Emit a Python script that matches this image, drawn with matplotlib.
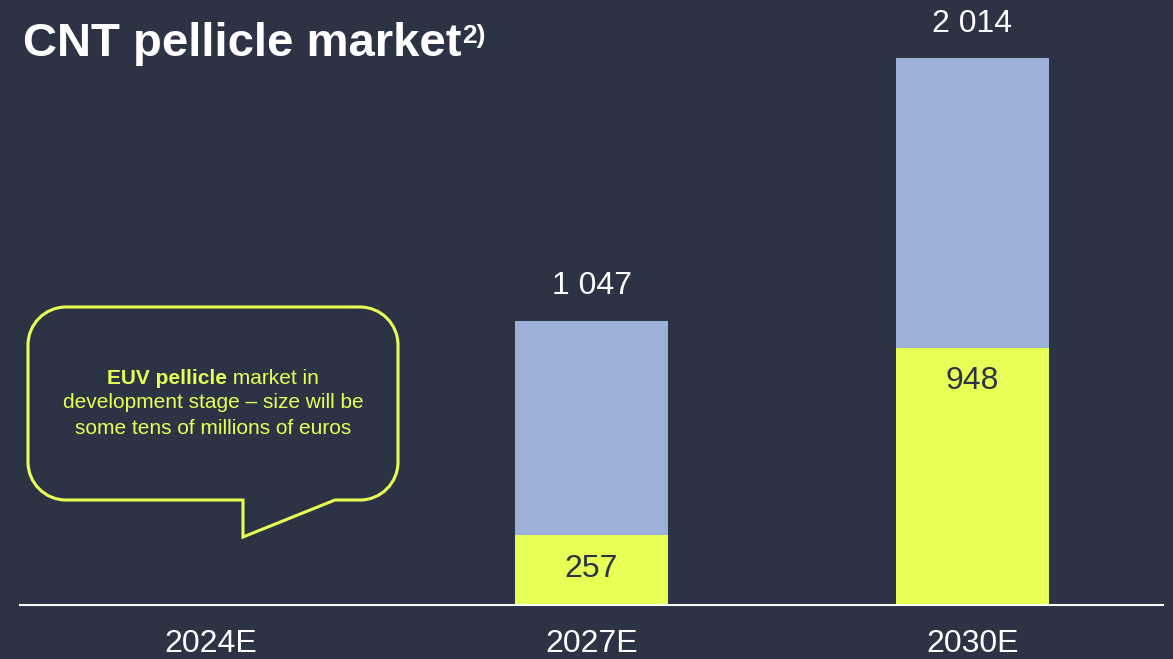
import numpy as np
import matplotlib.pyplot as plt
from matplotlib.path import Path
from matplotlib.patches import PathPatch

years = ['2024E', '2027E', '2030E']
cnt_lower = [0, 257, 948]
cnt_total = [0, 1047, 2014]

BG = '#2b3345'
BLUE = '#9db0d8'
LIME = '#e8ff55'

W, H = 1173, 659
plt.rcParams['font.family'] = ['Liberation Sans', 'DejaVu Sans']


def fx(px):
    return px / W


def fy(py):
    return 1 - py / H


fig = plt.figure(figsize=(W / 100, H / 100), dpi=100, facecolor=BG)
ax = fig.add_axes([fx(20), 54 / H, 1143 / W, 605 / H])
ax.set_facecolor(BG)

x = np.arange(len(years))
upper = [t - l for t, l in zip(cnt_total, cnt_lower)]
ax.bar(x, cnt_lower, width=0.4, color=LIME)
ax.bar(x, upper, bottom=cnt_lower, width=0.4, color=BLUE)
ax.set_xlim(-0.5, 2.5)
ax.set_ylim(0, 2229)

for i in range(len(years)):
    if cnt_total[i] > 0:
        ax.annotate(f"{cnt_total[i]:,}".replace(',', ' '), (x[i], cnt_total[i]),
                    xytext=(0, 25), textcoords='offset points',
                    ha='center', va='center', color='white', fontsize=23)
    if cnt_lower[i] > 0:
        ax.annotate(str(cnt_lower[i]), (x[i], cnt_lower[i]),
                    xytext=(0, -24), textcoords='offset points',
                    ha='center', va='center', color=BG, fontsize=23)

for s in ['top', 'left', 'right']:
    ax.spines[s].set_visible(False)
ax.spines['bottom'].set_color('white')
ax.spines['bottom'].set_linewidth(1.5)
ax.set_yticks([])
ax.set_xticks(x)
ax.set_xticklabels(years, color='white', fontsize=23)
ax.tick_params(axis='x', length=0, pad=17)

# title with superscript note
title = fig.text(fx(23), fy(56), 'CNT pellicle market', color='white',
                 fontsize=34, weight='bold', va='baseline')
fig.canvas.draw()
r = fig.canvas.get_renderer()
tb = title.get_window_extent(r)
fig.text((tb.x1 + 1) / W, fy(24), '2)', color='white', fontsize=19,
         weight='bold', va='top')

# speech bubble
L, R, T, B, rad = 28, 398, 307, 500, 38
k = 0.5523 * rad
pts = [
    (L + rad, T), (R - rad, T),
    (R - rad + k, T), (R, T + rad - k), (R, T + rad),
    (R, B - rad),
    (R, B - rad + k), (R - rad + k, B), (R - rad, B),
    (335, B), (243, 537), (243, B),
    (L + rad, B),
    (L + rad - k, B), (L, B - rad + k), (L, B - rad),
    (L, T + rad),
    (L, T + rad - k), (L + rad - k, T), (L + rad, T),
]
codes = [Path.MOVETO, Path.LINETO,
         Path.CURVE4, Path.CURVE4, Path.CURVE4,
         Path.LINETO,
         Path.CURVE4, Path.CURVE4, Path.CURVE4,
         Path.LINETO, Path.LINETO, Path.LINETO,
         Path.LINETO,
         Path.CURVE4, Path.CURVE4, Path.CURVE4,
         Path.LINETO,
         Path.CURVE4, Path.CURVE4, Path.CURVE4]
verts = [(fx(a), fy(b)) for a, b in pts]
fig.patches.append(PathPatch(Path(verts, codes), transform=fig.transFigure,
                             facecolor='none', edgecolor=LIME, lw=2.2,
                             joinstyle='miter'))

cx = 213
t1 = fig.text(0, fy(378), 'EUV pellicle', color=LIME, fontsize=15,
              weight='bold', va='center')
t2 = fig.text(0, fy(378), ' market in', color=LIME, fontsize=15, va='center')
w1 = t1.get_window_extent(r).width
w2 = t2.get_window_extent(r).width
start = cx - (w1 + w2) / 2
t1.set_x(fx(start))
t2.set_x(fx(start + w1))
fig.text(fx(cx), fy(403), 'development stage – size will be', color=LIME,
         fontsize=15, ha='center', va='center')
fig.text(fx(cx), fy(428), 'some tens of millions of euros', color=LIME,
         fontsize=15, ha='center', va='center')

fig.savefig('out.png', dpi=100, facecolor=BG)
